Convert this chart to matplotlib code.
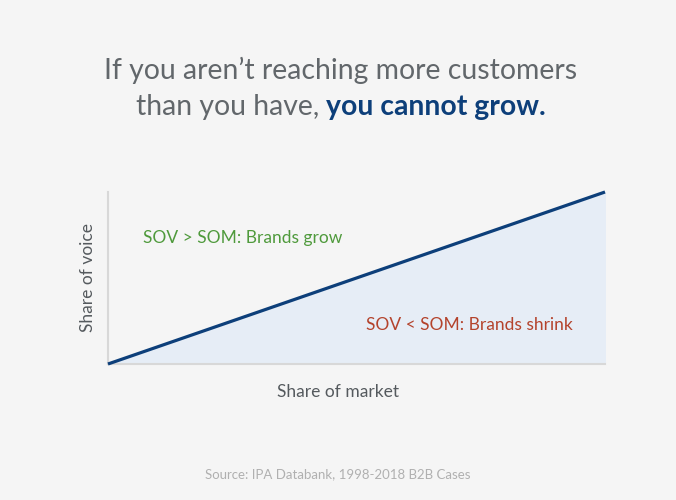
import matplotlib
matplotlib.use("Agg")
import matplotlib.pyplot as plt

share_of_market = [0.0, 1.0]
share_of_voice = [0.0, 1.0]

title_line1 = "If you aren\u2019t reaching more customers"
title_line2a = "than you have, "
title_line2b = "you cannot grow."
grow_label = "SOV > SOM: Brands grow"
shrink_label = "SOV < SOM: Brands shrink"
x_label = "Share of market"
y_label = "Share of voice"
source = "Source: IPA Databank, 1998-2018 B2B Cases"

bg = "#f5f5f5"
plt.rcParams['font.family'] = ['Lato', 'DejaVu Sans']

fig = plt.figure(figsize=(6.76, 5.0), dpi=100, facecolor=bg)
ax = fig.add_axes([108/676, 1-364/500, (605-108)/676, (364-192)/500])
ax.set_facecolor(bg)
ax.fill_between(share_of_market, share_of_voice, 0, color="#e6edf6", zorder=1)
ax.plot(share_of_market, share_of_voice, color="#0d3f7a", lw=2.3, zorder=3,
        solid_capstyle='butt', clip_on=False)
ax.set_xlim(0, 1)
ax.set_ylim(0, 1)
ax.set_xticks([])
ax.set_yticks([])
for s in ['top', 'right']:
    ax.spines[s].set_visible(False)
for s in ['left', 'bottom']:
    ax.spines[s].set_color("#d8d8d8")
    ax.spines[s].set_linewidth(1.5)

fig.text(338/676, 1-392/500, x_label, ha='center', va='center', fontsize=12.5, color="#555a5e")
fig.text(88/676, 1-278/500, y_label, ha='center', va='center', rotation=90, fontsize=12.5, color="#555a5e")

fig.text(143/676, 1-238/500, grow_label, ha='left', va='center', fontsize=12.5, color="#4f9a3c")
fig.text(366/676, 1-325/500, shrink_label, ha='left', va='center', fontsize=12.5, color="#b4432c")

fig.text(338/676, 1-474/500, source, ha='center', va='center', fontsize=9.5, color="#b0b0b0")

fs_title = 20.4
fig.text(341/676, 1-70/500, title_line1, ha='center', va='center', fontsize=fs_title,
         color="#62676b", fontweight='normal')

fig.canvas.draw()
r = fig.canvas.get_renderer()
ta = fig.text(0, 1-107/500, title_line2a, ha='left', va='center', fontsize=fs_title,
              color="#62676b", fontweight='normal')
tb = fig.text(0, 1-107/500, title_line2b, ha='left', va='center', fontsize=fs_title,
              color="#0d3f7a", fontweight='bold')
wa = ta.get_window_extent(r).width
wb = tb.get_window_extent(r).width
W = fig.bbox.width
x0 = 341 - (wa + wb) / 2
ta.set_x(x0 / W)
tb.set_x((x0 + wa) / W)

fig.savefig("out.png", dpi=100, facecolor=bg)
